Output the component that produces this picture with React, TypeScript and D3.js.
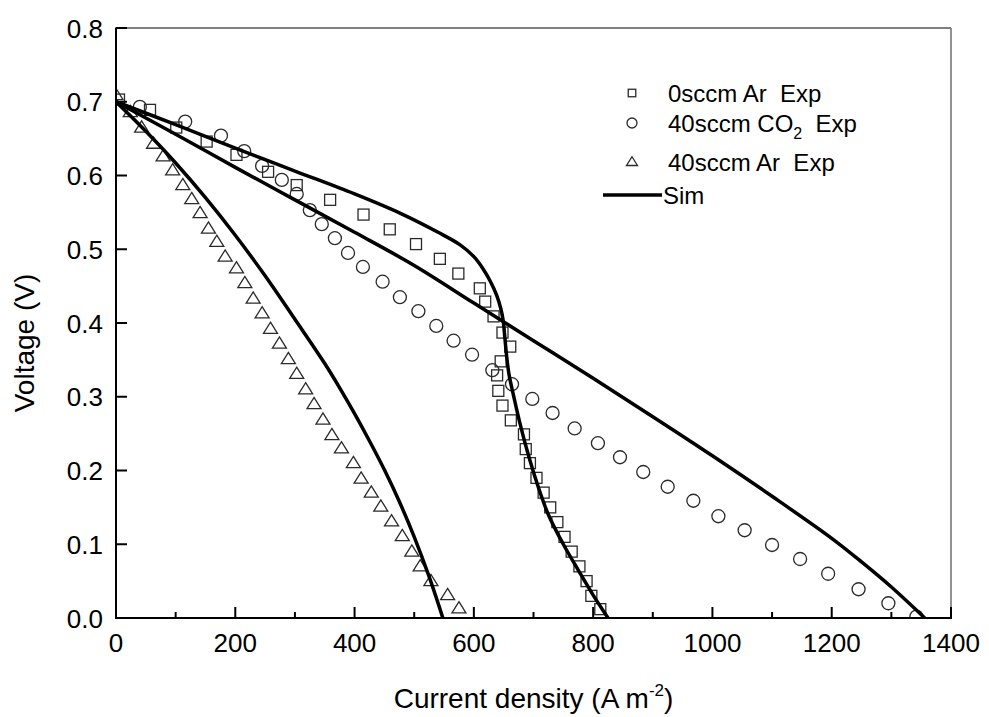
import React from "react";
import * as d3 from "d3";

// ---- Data ----
// 0 sccm Ar experiment (squares): [current density, voltage]
const sqI = [5, 57, 101, 152, 202, 255, 303, 359, 415, 459, 503, 543, 574, 610, 619, 633, 648, 661, 645, 639, 641, 648, 662, 684, 687, 694, 705, 717, 728, 740, 752, 764, 777, 789, 797, 812];
const sqV = [0.703, 0.689, 0.665, 0.646, 0.628, 0.605, 0.587, 0.567, 0.547, 0.527, 0.507, 0.487, 0.467, 0.447, 0.429, 0.409, 0.387, 0.368, 0.348, 0.329, 0.308, 0.288, 0.268, 0.249, 0.229, 0.210, 0.190, 0.170, 0.150, 0.130, 0.110, 0.090, 0.070, 0.050, 0.030, 0.012];

// 40 sccm CO2 experiment (circles)
const ciI = [40, 116, 176, 215, 245, 278, 303, 325, 345, 367, 389, 414, 447, 476, 507, 537, 566, 597, 631, 664, 698, 732, 769, 808, 845, 884, 925, 968, 1010, 1054, 1100, 1147, 1194, 1245, 1295, 1342];
const ciV = [0.693, 0.673, 0.654, 0.633, 0.613, 0.594, 0.575, 0.553, 0.534, 0.515, 0.495, 0.476, 0.456, 0.435, 0.416, 0.396, 0.376, 0.357, 0.336, 0.317, 0.297, 0.278, 0.257, 0.237, 0.218, 0.198, 0.178, 0.159, 0.138, 0.119, 0.099, 0.080, 0.060, 0.039, 0.020, 0.002];

// 40 sccm Ar experiment (triangles)
const trI = [0, 24, 43, 63, 79, 95, 112, 127, 141, 155, 169, 183, 202, 216, 230, 245, 259, 274, 289, 303, 318, 332, 347, 362, 378, 398, 411, 428, 444, 462, 480, 496, 510, 528, 556, 575];
const trV = [0.709, 0.686, 0.665, 0.643, 0.626, 0.607, 0.587, 0.568, 0.549, 0.528, 0.510, 0.490, 0.474, 0.454, 0.433, 0.413, 0.392, 0.372, 0.351, 0.331, 0.310, 0.290, 0.269, 0.248, 0.230, 0.210, 0.189, 0.170, 0.151, 0.131, 0.111, 0.090, 0.070, 0.050, 0.031, 0.013];

// Simulations
const simSqI = [0, 100, 200, 300, 400, 476, 540, 577, 600, 615, 628, 638, 645, 649, 652, 655, 659, 667, 677, 690, 705, 725, 750, 775, 800, 825];
const simSqV = [0.700, 0.669, 0.637, 0.606, 0.575, 0.549, 0.523, 0.506, 0.490, 0.474, 0.456, 0.438, 0.420, 0.404, 0.380, 0.355, 0.330, 0.300, 0.265, 0.225, 0.185, 0.140, 0.100, 0.065, 0.031, 0.0];
const simCoI = [0, 100, 200, 300, 400, 500, 600, 700, 800, 900, 1000, 1100, 1200, 1250, 1300, 1356];
const simCoV = [0.700, 0.656, 0.611, 0.567, 0.523, 0.478, 0.427, 0.376, 0.325, 0.273, 0.220, 0.165, 0.108, 0.076, 0.042, 0.0];
const simTrI = [0, 50, 100, 150, 200, 250, 300, 350, 375, 400, 425, 450, 475, 500, 525, 548];
const simTrV = [0.700, 0.660, 0.617, 0.570, 0.519, 0.464, 0.405, 0.345, 0.312, 0.277, 0.240, 0.201, 0.158, 0.110, 0.056, 0.0];

const xMajor = [0, 200, 400, 600, 800, 1000, 1200, 1400];
const xMinor = [100, 300, 500, 700, 900, 1100, 1300];
const yMajor = [0.0, 0.1, 0.2, 0.3, 0.4, 0.5, 0.6, 0.7, 0.8];

const FONT = "'Liberation Sans', Arial, Helvetica, sans-serif";

export default function App() {
  const L = 116, R = 951, T = 28, B = 618;
  const x = d3.scaleLinear().domain([0, 1400]).range([L, R]);
  const y = d3.scaleLinear().domain([0, 0.8]).range([B, T]);
  const line = d3
    .line<[number, number]>()
    .x((d) => x(d[0]))
    .y((d) => y(d[1]))
    .curve(d3.curveCatmullRom.alpha(0.5));

  const sims = [
    simSqI.map((v, i) => [v, simSqV[i]] as [number, number]),
    simCoI.map((v, i) => [v, simCoV[i]] as [number, number]),
    simTrI.map((v, i) => [v, simTrV[i]] as [number, number]),
  ];

  const mk = "#2a2a2a";
  const sq = (cx: number, cy: number, s: number, k: string) => (
    <rect key={k} x={cx - s / 2} y={cy - s / 2} width={s} height={s} fill="none" stroke={mk} strokeWidth={1.3} />
  );
  const ci = (cx: number, cy: number, r: number, k: string) => (
    <circle key={k} cx={cx} cy={cy} r={r} fill="none" stroke={mk} strokeWidth={1.3} />
  );
  const tr = (cx: number, cy: number, w: number, k: string) => {
    const h = w * 0.8;
    return (
      <path
        key={k}
        d={`M${cx},${cy - h * 0.6}L${cx + w / 2},${cy + h * 0.4}L${cx - w / 2},${cy + h * 0.4}Z`}
        fill="none"
        stroke={mk}
        strokeWidth={1.3}
      />
    );
  };

  return (
    <svg
      width={989}
      height={717}
      style={{ position: "absolute", left: 0, top: 0, background: "#fff" }}
      fontFamily={FONT}
    >
      <rect x={0} y={0} width={989} height={717} fill="#fff" />
      <defs>
        <clipPath id="plot">
          <rect x={L} y={T - 10} width={R - L} height={B - T + 10} />
        </clipPath>
      </defs>

      {/* data markers */}
      <g clipPath="url(#plot)">
        {sqI.map((v, i) => sq(x(v), y(sqV[i]), 11, "s" + i))}
        {ciI.map((v, i) => ci(x(v), y(ciV[i]), 6.5, "c" + i))}
        {trI.map((v, i) => tr(x(v), y(trV[i]), 14, "t" + i))}
        {sims.map((d, i) => (
          <path key={"sim" + i} d={line(d) || ""} fill="none" stroke="#000" strokeWidth={3.5} strokeLinejoin="round" />
        ))}
      </g>

      {/* frame */}
      <line x1={L} y1={T} x2={R} y2={T} stroke="#000" strokeWidth={1.2} />
      <line x1={R} y1={T} x2={R} y2={B} stroke="#777" strokeWidth={1.6} />
      <line x1={L} y1={T - 0.5} x2={L} y2={B + 1} stroke="#000" strokeWidth={2} />
      <line x1={L - 1} y1={B} x2={R + 1} y2={B} stroke="#000" strokeWidth={2} />

      {/* x ticks */}
      {xMajor.map((v) => (
        <g key={"xm" + v}>
          <line x1={x(v)} x2={x(v)} y1={B} y2={B - 11} stroke="#000" strokeWidth={2} />
          <text x={x(v)} y={B + 34} textAnchor="middle" fontSize={26} fill="#000">
            {v}
          </text>
        </g>
      ))}
      {xMinor.map((v) => (
        <line key={"xn" + v} x1={x(v)} x2={x(v)} y1={B} y2={B - 6} stroke="#000" strokeWidth={2} />
      ))}

      {/* y ticks */}
      {yMajor.map((v) => (
        <g key={"ym" + v}>
          <line x1={L} x2={L + 11} y1={y(v)} y2={y(v)} stroke="#000" strokeWidth={2} />
          <text x={103} y={y(v) + 9.5} textAnchor="end" fontSize={26} fill="#000">
            {v.toFixed(1)}
          </text>
        </g>
      ))}

      {/* axis titles */}
      <text x={(L + R) / 2} y={708} textAnchor="middle" fontSize={28} fill="#000">
        Current density (A m
        <tspan fontSize={17} dy={-12}>-2</tspan>
        <tspan dy={12}>)</tspan>
      </text>
      <text
        transform={`translate(34,343) rotate(-90)`}
        textAnchor="middle"
        fontSize={28}
        fill="#000"
      >
        Voltage (V)
      </text>

      {/* legend */}
      <g fontSize={24} fill="#000">
        {sq(632, 93, 7.5, "ls")}
        <text x={668} y={101.5} style={{ whiteSpace: "pre" }}>0sccm Ar  Exp</text>
        {ci(632, 123, 5, "lc")}
        <text x={668} y={131.5} style={{ whiteSpace: "pre" }}>
          40sccm CO<tspan fontSize={16} dy={7}>2</tspan>
          <tspan dy={-7}>  Exp</tspan>
        </text>
        {tr(632, 162, 11, "lt")}
        <text x={668} y={170.5} style={{ whiteSpace: "pre" }}>40sccm Ar  Exp</text>
        <line x1={603} x2={662} y1={195} y2={195} stroke="#000" strokeWidth={3.5} />
        <text x={663} y={203.5}>Sim</text>
      </g>
    </svg>
  );
}
